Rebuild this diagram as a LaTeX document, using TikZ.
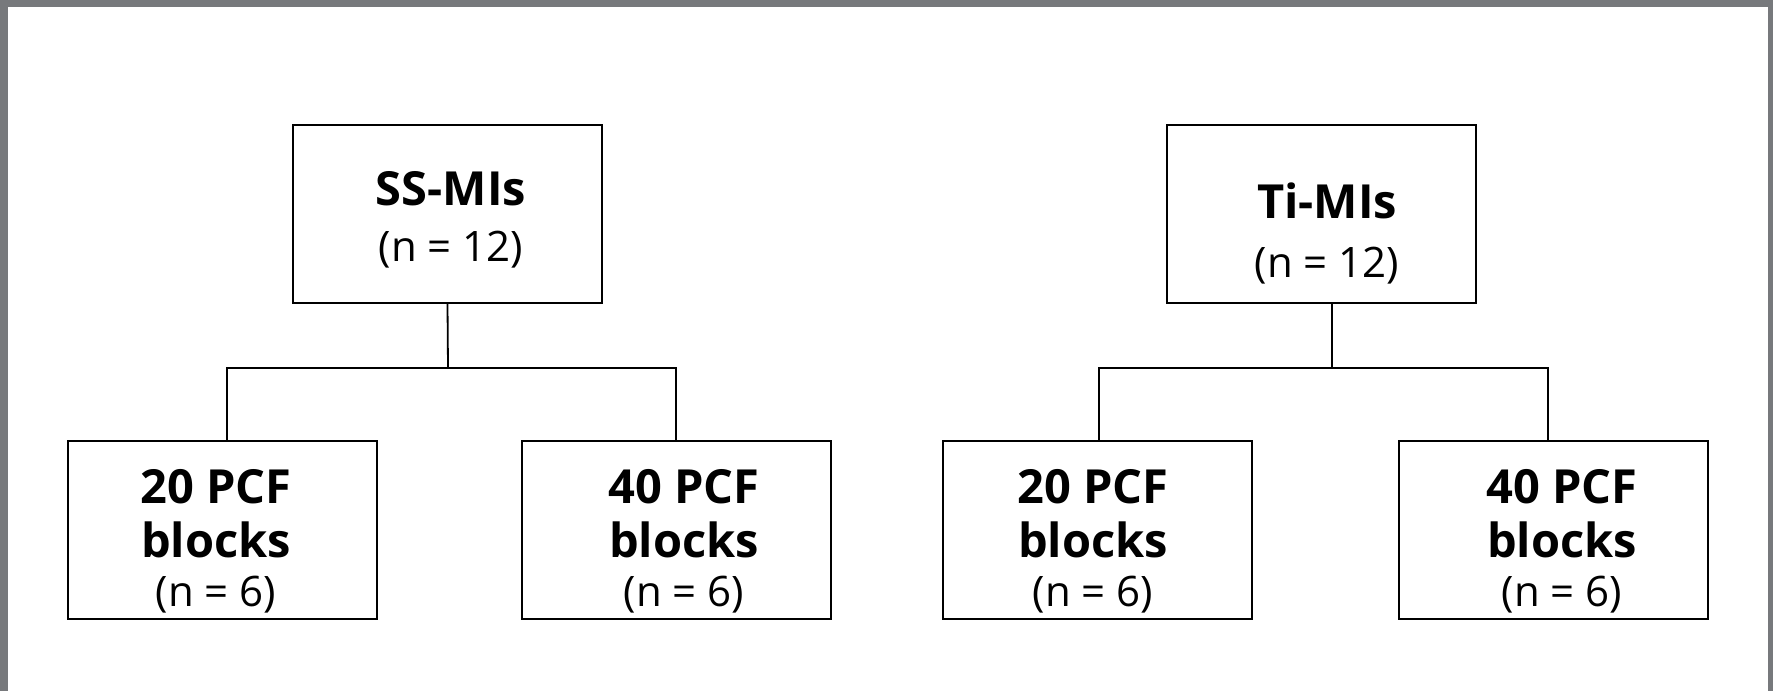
\documentclass[tikz,border=0pt]{standalone}
\usepackage{fontspec}
\setmainfont{Open Sans}
\definecolor{frame}{HTML}{77797C}
\begin{document}
\begin{tikzpicture}[x=1pt,y=-1pt,
  box/.style={draw=black,line width=2pt,minimum width=309pt,minimum height=178pt,inner sep=0pt},
  conn/.style={draw=black,line width=1.8pt},
  ttl/.style={anchor=base,inner sep=0pt,font=\fontsize{47}{56}\selectfont\bfseries},
  btl/.style={anchor=base,inner sep=0pt,font=\fontsize{47}{56}\selectfont\bfseries},
  cnt/.style={anchor=base,inner sep=0pt,font=\fontsize{42}{50}\selectfont}]
\fill[frame] (0,0) rectangle (1773,691);
\fill[white] (8,7) rectangle (1768,691);
\useasboundingbox (0,0) rectangle (1773,691);
% top boxes
\node[box] (ss) at (447.5,214) {};
\node[box] (ti) at (1321.5,214) {};
% bottom boxes
\node[box] (b1) at (222,529.5) {};
\node[box] (b2) at (676,529.5) {};
\node[box] (b3) at (1097,529.5) {};
\node[box] (b4) at (1553,529.5) {};
% texts
\node[ttl] (sst) at (451,205) {SS-MIs};
\node[cnt] (ssn) at (451,261) {(n = 12)};
\node[ttl] (tit) at (1327,218) {Ti-MIs};
\node[cnt] (tin) at (1327,277) {(n = 12)};
\node[btl] (b1a) at (216,503) {20 PCF};
\node[btl] (b1b) at (216,557) {blocks};
\node[cnt] (b1c) at (216,606) {(n = 6)};
\node[btl] (b2a) at (684,503) {40 PCF};
\node[btl] (b2b) at (684,557) {blocks};
\node[cnt] (b2c) at (684,606) {(n = 6)};
\node[btl] (b3a) at (1093,503) {20 PCF};
\node[btl] (b3b) at (1093,557) {blocks};
\node[cnt] (b3c) at (1093,606) {(n = 6)};
\node[btl] (b4a) at (1562,503) {40 PCF};
\node[btl] (b4b) at (1562,557) {blocks};
\node[cnt] (b4c) at (1562,606) {(n = 6)};
% connectors
\coordinate (jl) at (448,368);
\coordinate (jr) at (1332,368);
\draw[conn] (ss.south) -- (jl);
\draw[conn] ([xshift=5pt]b1.north) |- (jl) -| (b2.north);
\draw[conn] ([xshift=10.5pt]ti.south) -- (jr);
\draw[conn] ([xshift=2pt]b3.north) |- (jr) -| ([xshift=-5pt]b4.north);
\end{tikzpicture}
\end{document}
